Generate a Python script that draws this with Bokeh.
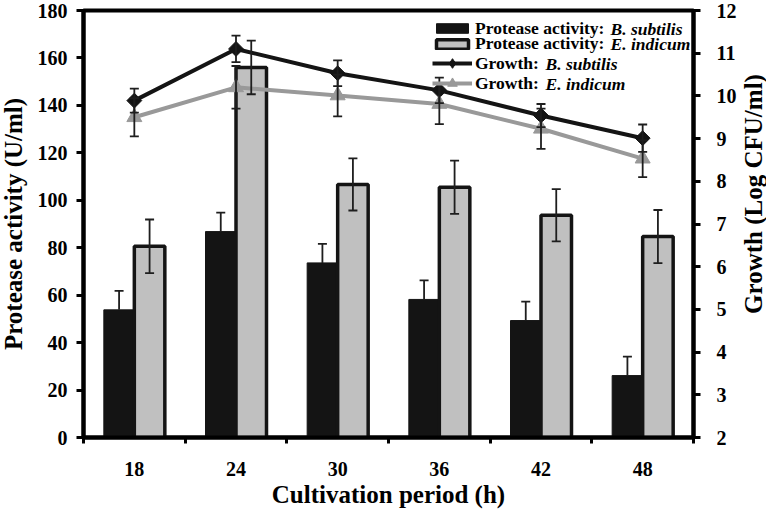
import math
from bokeh.plotting import figure
from bokeh.layouts import row
from bokeh.models import (Range1d, LinearAxis, FixedTicker, ColumnDataSource, Whisker,
                          TeeHead, Legend, LegendItem, Label)
from bokeh.core.properties import value
from bokeh.embed import file_html
from bokeh.resources import INLINE

# ---------------- data ----------------
periods = ["18", "24", "30", "36", "42", "48"]
bs_protease = [53.8, 86.8, 73.6, 58.2, 49.3, 26.1]
bs_protease_err = [8, 8, 8, 8, 8, 8]
ei_protease = [80.6, 156.0, 106.7, 105.5, 93.7, 84.7]
ei_protease_err = [11.3, 11.3, 11.0, 11.2, 11.0, 11.2]
bs_growth = [9.89, 11.10, 10.53, 10.13, 9.54, 9.01]
bs_growth_err = [0.28, 0.31, 0.30, 0.30, 0.27, 0.32]
ei_growth = [9.50, 10.20, 10.01, 9.81, 9.23, 8.53]
ei_growth_err = [0.45, 0.50, 0.49, 0.47, 0.47, 0.43]
left_ticks = [0, 20, 40, 60, 80, 100, 120, 140, 160, 180]
right_ticks = [2, 3, 4, 5, 6, 7, 8, 9, 10, 11, 12]
right_title = "Growth (Log CFU/ml)"

FONT = "Liberation Serif"
BLACK = "#141414"
GRAY_BAR = "#c0c0c0"
GRAY_LINE = "#999999"
ERR = "#1e1e1e"

bar_w = 0.3
centers = [i + 0.5 for i in range(len(periods))]
src = ColumnDataSource(dict(
    c=centers,
    bs_x=[c - bar_w / 2 for c in centers],
    ei_x=[c + bar_w / 2 for c in centers],
    bs_p=bs_protease,
    ei_p=ei_protease,
    bs_p_up=[v + e for v, e in zip(bs_protease, bs_protease_err)],
    ei_p_up=[v + e for v, e in zip(ei_protease, ei_protease_err)],
    ei_p_lo=[v - e for v, e in zip(ei_protease, ei_protease_err)],
    bs_g=bs_growth,
    ei_g=ei_growth,
    bs_g_up=[v + e for v, e in zip(bs_growth, bs_growth_err)],
    bs_g_lo=[v - e for v, e in zip(bs_growth, bs_growth_err)],
    ei_g_up=[v + e for v, e in zip(ei_growth, ei_growth_err)],
    ei_g_lo=[v - e for v, e in zip(ei_growth, ei_growth_err)],
))

p = figure(frame_width=610, frame_height=427,
           x_range=Range1d(0, len(periods)), y_range=Range1d(0, 180),
           output_backend="svg", toolbar_location=None,
           min_border_left=81, min_border_right=2, min_border_top=13,
           min_border_bottom=72)
p.extra_y_ranges = {"growth": Range1d(2, 12)}
p.xgrid.visible = False
p.ygrid.visible = False
p.outline_line_color = "black"
p.outline_line_width = 4
p.background_fill_color = "white"
p.border_fill_color = "white"

# bars
r_bs_bar = p.vbar(x="bs_x", top="bs_p", bottom=0, width=bar_w, source=src,
                  fill_color=BLACK, line_color=BLACK, line_width=1)
r_ei_bar = p.vbar(x="ei_x", top="ei_p", bottom=0, width=bar_w, source=src,
                  fill_color=GRAY_BAR, line_color=BLACK, line_width=3.5)

def whisk(base, up, lo, yname=None, lower_cap=True):
    kw = {}
    if yname:
        kw["y_range_name"] = yname
    w = Whisker(source=src, base=base, upper=up, lower=lo, dimension="height",
                line_color=ERR, line_width=1.8,
                upper_head=TeeHead(size=9, line_color=ERR, line_width=1.8),
                lower_head=(TeeHead(size=9, line_color=ERR, line_width=1.8)
                            if lower_cap else None),
                level="annotation", **kw)
    p.add_layout(w)

whisk("bs_x", "bs_p_up", "bs_p", lower_cap=False)
whisk("ei_x", "ei_p_up", "ei_p_lo")

# growth lines
r_bs_line = p.line(x="c", y="bs_g", source=src, y_range_name="growth",
                   line_color=BLACK, line_width=4)
r_ei_line = p.line(x="c", y="ei_g", source=src, y_range_name="growth",
                   line_color=GRAY_LINE, line_width=4)
whisk("c", "bs_g_up", "bs_g_lo", "growth")
whisk("c", "ei_g_up", "ei_g_lo", "growth")
# diamond (used by the legend), covered by a rotated square on the chart
r_bs_dia = p.scatter(x="c", y="bs_g", source=src, y_range_name="growth",
                     marker="diamond", size=13, fill_color=BLACK, line_color=BLACK)
r_bs_mk = p.scatter(x="c", y="bs_g", source=src, y_range_name="growth",
                    marker="square", angle=math.pi / 4, size=10.5,
                    fill_color=BLACK, line_color=BLACK)
r_ei_mk = p.scatter(x="c", y="ei_g", source=src, y_range_name="growth",
                    marker="triangle", size=15,
                    fill_color=GRAY_LINE, line_color=GRAY_LINE)

# axes styling
def style_axis(ax):
    ax.axis_line_width = 4
    ax.axis_line_color = "black"
    ax.major_tick_line_width = 3
    ax.major_tick_line_color = "black"
    ax.major_tick_in = 0
    ax.minor_tick_in = 0
    ax.major_label_text_font = FONT
    ax.major_label_text_font_style = "bold"
    ax.major_label_text_font_size = "20px"
    ax.major_label_text_color = "black"
    ax.axis_label_text_font = FONT
    ax.axis_label_text_font_style = "bold"
    ax.axis_label_text_font_size = "25px"
    ax.axis_label_text_color = "black"

xa = p.xaxis[0]
style_axis(xa)
xa.ticker = FixedTicker(ticks=centers, minor_ticks=list(range(len(periods) + 1)))
xa.major_label_overrides = {c: lab for c, lab in zip(centers, periods)}
xa.major_tick_out = 0
xa.minor_tick_out = 6
xa.minor_tick_line_width = 3
xa.minor_tick_line_color = "black"
xa.major_label_standoff = 18
xa.axis_label = "Cultivation period (h)"
xa.axis_label_standoff = 2

ya = p.yaxis[0]
style_axis(ya)
ya.ticker = FixedTicker(ticks=left_ticks)
ya.major_tick_out = 7
ya.minor_tick_out = 0
ya.major_label_standoff = 9
ya.axis_label = "Protease activity (U/ml)"
ya.axis_label_standoff = 8

ra = LinearAxis(y_range_name="growth", ticker=FixedTicker(ticks=right_ticks))
style_axis(ra)
ra.major_tick_out = 7
ra.minor_tick_out = 0
ra.major_label_standoff = 16
p.add_layout(ra, "right")

# legend: one small legend per row so that rows sit where the reference has them
legend_rows = [
    ("Protease activity:", "B. subtilis", [r_bs_bar], 12, 409.0, 527),
    ("Protease activity:", "E. indicum", [r_ei_bar], 12, 393.5, 527),
    ("Growth:", "B. subtilis", [r_bs_line, r_bs_dia], 24, 374.0, 462),
    ("Growth:", "E. indicum", [r_ei_line, r_ei_mk], 24, 354.0, 462),
]
for lab, ital, rends, gh, cy, ix in legend_rows:
    row_h = max(gh, 21)
    lg = Legend(items=[LegendItem(label=lab, renderers=rends)],
                location=(349, cy - row_h / 2), border_line_color=None,
                background_fill_alpha=0, padding=0, margin=0, spacing=0,
                glyph_width=40, glyph_height=gh, label_height=20, label_standoff=3,
                label_text_font=FONT, label_text_font_style="bold",
                label_text_font_size="17.5px", label_text_color="black")
    p.add_layout(lg, "center")
    p.add_layout(Label(x=ix, y=cy, x_units="screen", y_units="screen", text=ital,
                       text_font=FONT, text_font_style="bold italic",
                       text_font_size="17.5px", text_baseline="middle",
                       text_color="black"))

# narrow companion figure holding the right-hand axis title (reads bottom to top)
p2 = figure(width=27, height=453, x_range=Range1d(0, 1), y_range=Range1d(0, 1),
            x_axis_type=None, y_axis_type=None, output_backend="svg",
            toolbar_location=None, min_border=0)
p2.outline_line_color = None
p2.grid.visible = False
p2.background_fill_color = "white"
p2.border_fill_color = "white"
p2.text(x=[0.5], y=[0.5], text=[right_title], angle=math.pi / 2,
        text_font=value(FONT), text_font_style="bold", text_font_size="25px",
        text_align="center", text_baseline="middle", text_color="black")

layout = row(p, p2, margin=(-3, 0, 0, -4))
open("out.html", "w").write(file_html(layout, INLINE))
